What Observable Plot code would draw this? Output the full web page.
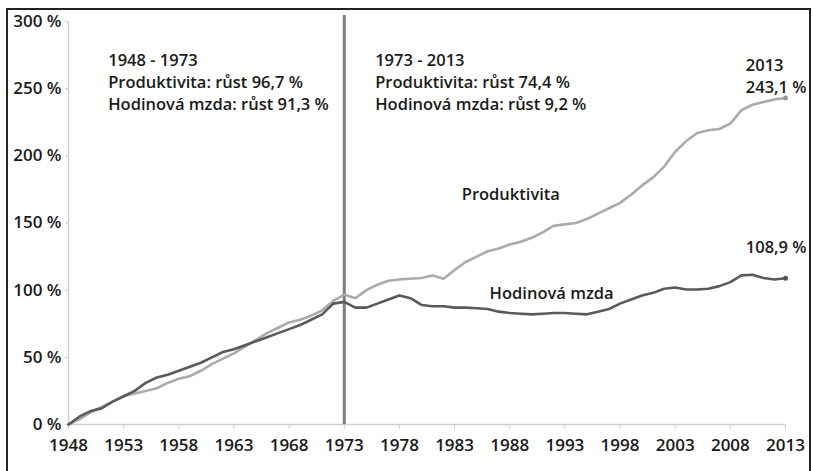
<!DOCTYPE html>
<html>
<head>
<meta charset="utf-8">
<script src="https://cdn.jsdelivr.net/npm/d3@7"></script>
<script src="https://cdn.jsdelivr.net/npm/@observablehq/plot@0.6"></script>
<style>
  html, body { margin: 0; padding: 0; background: #fff; }
  #wrap { position: relative; width: 813px; height: 471px; overflow: hidden; }
  #frame { position: absolute; left: 6px; top: 8px; width: 805px; height: 480px;
           border: 2px solid #222; box-sizing: border-box; pointer-events: none; }
  svg { display: block; }
</style>
</head>
<body>
<div id="wrap"><div id="chart"></div><div id="frame"></div></div>
<script>
const years = [1948,1949,1950,1951,1952,1953,1954,1955,1956,1957,1958,1959,1960,1961,1962,1963,1964,1965,1966,1967,
  1968,1969,1970,1971,1972,1973,1974,1975,1976,1977,1978,1979,1980,1981,1982,1983,1984,1985,1986,1987,
  1988,1989,1990,1991,1992,1993,1994,1995,1996,1997,1998,1999,2000,2001,2002,2003,2004,2005,2006,2007,
  2008,2009,2010,2011,2012,2013];

const productivity = [0,4,9,13,17,21,23,25,27,31,34,36,40,45,49,53,58,63,68,72,
  76,78,81,85,92,96.7,94,100,104,107,108,108.5,109,111,108.5,115,121,125,129,131,
  134,136,139,143,148,149,150,153,157,161,165,171,178,184,192,203,211,217,219,220,
  224,234,238,240,242,243.1];

const wage = [0,6,10,12,17,21,25,31,35,37,40,43,46,50,54,56,59,62,65,68,
  71,74,78,82,90,91.3,87,87,90,93,96,94,89,88,88,87,87,86.5,86,84,
  83,82.5,82,82.5,83,83,82.5,82,84,86,90,93,96,98,101,102,100.5,100.5,101,103,
  106,111,111.5,109,108,108.9];

const seriesNames = ["Produktivita", "Hodinová mzda"];
const xTicks = [1948,1953,1958,1963,1968,1973,1978,1983,1988,1993,1998,2003,2008,2013];
const yTicks = [0,50,100,150,200,250,300];
const splitYear = 1973;

const periodTexts = ["1948 - 1973\nProduktivita: růst 96,7 %\nHodinová mzda: růst 91,3 %",
                     "1973 - 2013\nProduktivita: růst 74,4 %\nHodinová mzda: růst 9,2 %"];
const periodX = [1951.6, 1975.8];
const periodY = [256, 255.5];

const endTexts = ["2013\n243,1 %", "108,9 %"];
const endX = [2009.4, 2009.4];
const endY = [260.5, 133];

const labelX = [1988.1, 1991.8];
const labelY = [171, 97.5];

const rows = [];
years.forEach((y, i) => {
  rows.push({year: y, value: productivity[i], series: seriesNames[0]});
  rows.push({year: y, value: wage[i], series: seriesNames[1]});
});
const prodRows = rows.filter(d => d.series === seriesNames[0]);
const wageRows = rows.filter(d => d.series === seriesNames[1]);
const lastRows = [prodRows[prodRows.length - 1], wageRows[wageRows.length - 1]];

const font = "'Open Sans', Lato, sans-serif";

const chart = Plot.plot({
  width: 813,
  height: 471,
  marginLeft: 68,
  marginRight: 28,
  marginTop: 21,
  marginBottom: 47,
  style: {fontFamily: font, fontSize: "16px", color: "#1a1a1a", background: "#fff", fontWeight: 600},
  x: {domain: [1948, 2013], label: null},
  y: {domain: [0, 300], label: null},
  marks: [
    Plot.ruleX([1948], {stroke: "#cfcfcf", strokeWidth: 1.5}),
    Plot.ruleY([0], {stroke: "#cfcfcf", strokeWidth: 1.5}),
    Plot.axisX({ticks: xTicks, tickFormat: d => String(d), tickSize: 5, tickPadding: 9, stroke: "#cfcfcf", fill: "#1a1a1a", fontSize: 17, fontWeight: 600, label: null}),
    Plot.axisY({ticks: yTicks, tickFormat: d => d + " %", tickSize: 3, tickPadding: 4, stroke: "#cfcfcf", fill: "#1a1a1a", fontSize: 17, fontWeight: 600, label: null}),
    Plot.ruleX([splitYear], {y1: 0, y2: 304.5, stroke: "#7d7d7d", strokeWidth: 3}),
    Plot.line(prodRows, {x: "year", y: "value", stroke: "#ababab", strokeWidth: 2.6}),
    Plot.line(wageRows, {x: "year", y: "value", stroke: "#5a5a5a", strokeWidth: 2.6}),
    Plot.dot(lastRows, {x: "year", y: "value", r: 2.5, fill: d => d.series === seriesNames[0] ? "#999" : "#555", stroke: "none"}),
    Plot.text(periodTexts, {x: (d, i) => periodX[i], y: (d, i) => periodY[i], text: d => d,
      textAnchor: "start", lineAnchor: "middle", lineHeight: 1.33, fontSize: 16.5, fontWeight: 600, fill: "#1a1a1a"}),
    Plot.text(endTexts, {x: (d, i) => endX[i], y: (d, i) => endY[i], text: d => d,
      textAnchor: "start", lineAnchor: "middle", lineHeight: 1.33, fontSize: 16.5, fontWeight: 600, fill: "#1a1a1a"}),
    Plot.text(seriesNames, {x: (d, i) => labelX[i], y: (d, i) => labelY[i], text: d => d,
      textAnchor: "middle", lineAnchor: "middle", fontSize: 16.5, fontWeight: 600, fill: "#1a1a1a"})
  ]
});
document.getElementById("chart").appendChild(chart);
</script>
</body>
</html>
